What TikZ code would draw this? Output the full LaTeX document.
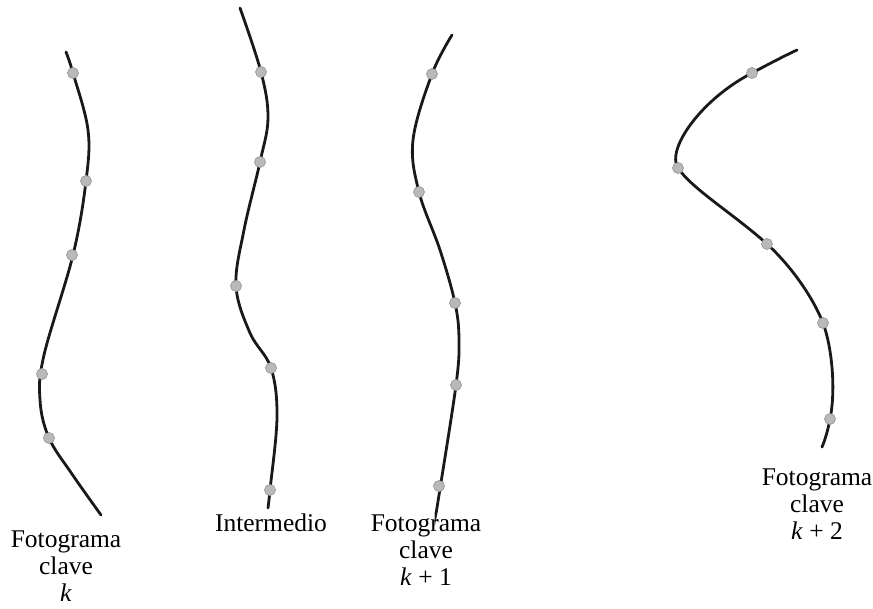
\documentclass[tikz,border=0pt]{standalone}
\usepackage{fontspec}
\setmainfont{Liberation Serif}
\begin{document}
\begin{tikzpicture}[x=1pt,y=-1pt,
  curve/.style={line width=2.8pt, line cap=round, black!90},
  keydot/.style={circle, fill=gray!55, draw=gray!80, line width=0.7pt, minimum size=11pt, inner sep=0pt},
  lab/.style={align=center, font=\fontsize{25.5}{27}\selectfont, inner sep=0pt}]
\useasboundingbox (0,0) rectangle (873,608);
% curve 1 (Fotograma clave k)
\draw[curve] plot[smooth, tension=0.6] coordinates {(66,52) (73,73) (88,130) (86,181) (73,255) (44,355) (40,400) (49,438) (72,474) (101,515)};
\node[keydot] (a1) at (73,73) {};
\node[keydot] (a2) at (86,181) {};
\node[keydot] (a3) at (72,255) {};
\node[keydot] (a4) at (42,374) {};
\node[keydot] (a5) at (49,438) {};
% curve 2 (Intermedio)
\draw[curve] plot[smooth, tension=0.6] coordinates {(240,8) (261,72) (268,118) (260,162) (244,230) (236,286) (250,333) (271,368) (277,417) (270,490) (268,508)};
\node[keydot] (b1) at (261,72) {};
\node[keydot] (b2) at (260,162) {};
\node[keydot] (b3) at (236,286) {};
\node[keydot] (b4) at (271,368) {};
\node[keydot] (b5) at (270,490) {};
% curve 3 (Fotograma clave k+1)
\draw[curve] plot[smooth, tension=0.6] coordinates {(452,35) (432,74) (413,140) (419,192) (440,250) (455,303) (459,340) (456,385) (439,495) (436,513)};
\node[keydot] (c1) at (432,74) {};
\node[keydot] (c2) at (419,192) {};
\node[keydot] (c3) at (455,303) {};
\node[keydot] (c4) at (456,385) {};
\node[keydot] (c5) at (439,486) {};
% curve 4 (Fotograma clave k+2)
\draw[curve] (797,50) .. controls (782,57) and (767,65) .. (752,73)
  .. controls (700,100) and (666,150) .. (678,168)
  .. controls (692,189) and (735,215) .. (767,244)
  .. controls (789,264) and (812,295) .. (823,323)
  .. controls (832,347) and (836,390) .. (830,419)
  .. controls (828,430) and (825,440) .. (822,447);
\node[keydot] (d1) at (752,73) {};
\node[keydot] (d2) at (678,168) {};
\node[keydot] (d3) at (767,244) {};
\node[keydot] (d4) at (823,323) {};
\node[keydot] (d5) at (830,419) {};
% labels
\node[lab] (la) at (66,566) {Fotograma\\clave\\\textit{k}};
\node[lab] (lb) at (271,523) {Intermedio};
\node[lab] (lc) at (426,550) {Fotograma\\clave\\\textit{k} + 1};
\node[lab] (ld) at (817,504) {Fotograma\\clave\\\textit{k} + 2};
\end{tikzpicture}
\end{document}
